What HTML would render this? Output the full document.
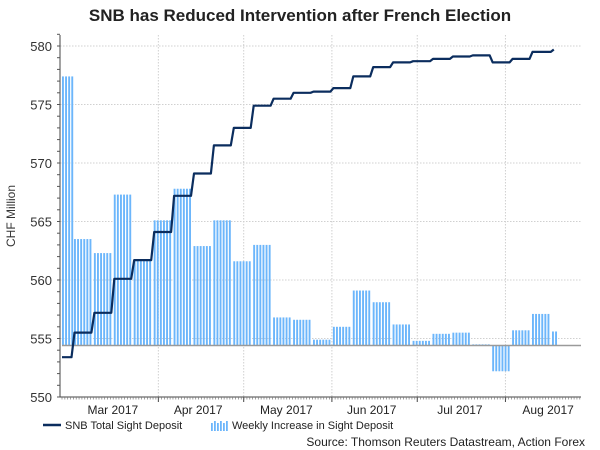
<!DOCTYPE html>
<html><head><meta charset="utf-8"><style>
body{margin:0;background:#fff;}
svg{display:block;font-family:"Liberation Sans",Arial,sans-serif;}
</style></head><body>
<svg id="chart" width="600" height="450" viewBox="0 0 600 450">
<text x="300" y="21" text-anchor="middle" font-size="17" font-weight="bold" fill="#222">SNB has Reduced Intervention after French Election</text>
<text transform="translate(15,216) rotate(-90)" text-anchor="middle" font-size="12" fill="#333">CHF Million</text>
<g id="grid"></g><g id="bars"></g><g id="line"></g><g id="axes"></g>
<g>
<line x1="43" y1="425" x2="61" y2="425" stroke="#0b2d5e" stroke-width="2.5"/>
<text x="65" y="429" font-size="11" fill="#222">SNB Total Sight Deposit</text>
<g id="legstripes"></g>
<text x="232" y="429" font-size="11" fill="#222">Weekly Increase in Sight Deposit</text>
</g>
<text x="585" y="446" text-anchor="end" font-size="12" fill="#222">Source: Thomson Reuters Datastream, Action Forex</text>
</svg>
<script>
const weekDates=["2017-02-23","2017-03-02","2017-03-09","2017-03-16","2017-03-23","2017-03-30","2017-04-06","2017-04-13","2017-04-20","2017-04-27","2017-05-04","2017-05-11","2017-05-18","2017-05-25","2017-06-01","2017-06-08","2017-06-15","2017-06-22","2017-06-29","2017-07-06","2017-07-13","2017-07-20","2017-07-27","2017-08-03","2017-08-10","2017-08-17"];
const totalDeposit=[553.4,555.5,557.2,560.1,561.7,564.1,567.2,569.1,571.5,573.0,574.9,575.5,576.0,576.1,576.4,577.4,578.2,578.6,578.7,578.9,579.1,579.2,578.6,578.9,579.5,579.7];
const weeklyBars=[577.4,563.5,562.3,567.3,561.7,565.1,567.8,562.9,565.1,561.6,563.0,556.8,556.6,554.9,556.0,559.1,558.1,556.2,554.8,555.4,555.5,554.5,552.2,555.7,557.1,555.6];
const baselineValue=554.4;
const yTicks=[550,555,560,565,570,575,580];
const monthStarts=["2017-04-01","2017-05-01","2017-06-01","2017-07-01","2017-08-01"];
const monthLabels=["Mar 2017","Apr 2017","May 2017","Jun 2017","Jul 2017","Aug 2017"];
const monthMids=["2017-03-16","2017-04-15","2017-05-16","2017-06-15","2017-07-16","2017-08-16"];
const endDate="2017-08-18";

const NS="http://www.w3.org/2000/svg";
const X0=62,X1=581,Y0=397,Ytop=35;
function doy(s){const d=new Date(s+"T00:00:00Z");return (d-Date.UTC(2017,0,1))/864e5;}
function x(s){return 73+(doy(s)-60)*2.845;}
function y(v){return 46+(580-v)*11.7;}
function mk(tag,attrs,parent){const e=document.createElementNS(NS,tag);for(const k in attrs)e.setAttribute(k,attrs[k]);parent.appendChild(e);return e;}
const grid=document.getElementById('grid'),bars=document.getElementById('bars'),lineG=document.getElementById('line'),axes=document.getElementById('axes');

yTicks.forEach(t=>{
  const g=mk('line',{x1:X0-2,x2:X1,y1:y(t),y2:y(t),stroke:'#d0d0d0','stroke-dasharray':'1.5,1.5'},grid);
  
  
  const tx=mk('text',{x:52,y:y(t)+5,'text-anchor':'end','font-size':13,fill:'#333'},axes);
  tx.textContent=t;
  
  
});
monthStarts.forEach(m=>{
  const g=mk('line',{x1:x(m),x2:x(m),y1:Ytop,y2:Y0,stroke:'#d0d0d0','stroke-dasharray':'1.5,1.5'},grid);
  
  
  const tk=mk('line',{x1:x(m),x2:x(m),y1:Y0,y2:Y0+5,stroke:'#444'},axes);
  
  
});
monthLabels.forEach((l,i)=>{
  const tx=mk('text',{x:x(monthMids[i]),y:414,'text-anchor':'middle','font-size':12,fill:'#222'},axes);
  tx.textContent=l;
  
  
});

// bars as stripes
const endX=x(endDate);
weeklyBars.forEach((v,i)=>{
  const xs=Math.max(X0,x(weekDates[i])+1);
  const xe=i+1<weekDates.length?x(weekDates[i+1])-1:endX+2;
  const g=mk('g',{},bars);
  
  
  const y1=y(Math.max(v,baselineValue)),y2=y(Math.min(v,baselineValue));
  for(let sx=xs;sx<xe;sx+=3.1){
    mk('rect',{x:sx.toFixed(1),y:y1,width:1.9,height:Math.max(0.8,y2-y1),fill:'#6cb6fb'},g);
  }
});
const bl=mk('line',{x1:X0,x2:X1,y1:y(baselineValue),y2:y(baselineValue),stroke:'#9a9a9a','stroke-width':1.5},bars);



// stepped line
let pts=[[X0,y(totalDeposit[0])]];
for(let i=1;i<totalDeposit.length;i++){
  const xi=i<weekDates.length?x(weekDates[i]):endX;
  if(i===totalDeposit.length-1){pts.push([endX-3,y(totalDeposit[i-1])]);pts.push([endX,y(totalDeposit[i])]);}
  else{pts.push([xi-1.5,y(totalDeposit[i-1])]);pts.push([xi+1.5,y(totalDeposit[i])]);}
}
const pl=mk('polyline',{points:pts.map(p=>p[0].toFixed(1)+','+p[1].toFixed(1)).join(' '),fill:'none',stroke:'#0b2d5e','stroke-width':2.2,'stroke-linejoin':'round'},lineG);



// axes
const ya=mk('line',{x1:X0-2,x2:X0-2,y1:Ytop,y2:Y0,stroke:'#444'},axes);


const xa=mk('line',{x1:X0-2,x2:X1,y1:Y0,y2:Y0,stroke:'#444'},axes);


for(let v=550;v<=581;v++){
  const t=mk('line',{x1:X0-5,x2:X0-2,y1:y(v),y2:y(v),stroke:'#555'},axes);
  
  
}
for(let px=X0;px<=X1;px+=2.845){
  const t=mk('line',{x1:px,x2:px,y1:Y0,y2:Y0+2.5,stroke:'#777','stroke-width':0.7},axes);
  
  
}
const ls=document.getElementById('legstripes');
for(let i=0;i<6;i++){mk('rect',{x:211+i*3,y:420+(i%2?1:3),width:1.8,height:i%2?10:8,fill:'#6cb6fb'},ls);}
</script>
</body></html>
